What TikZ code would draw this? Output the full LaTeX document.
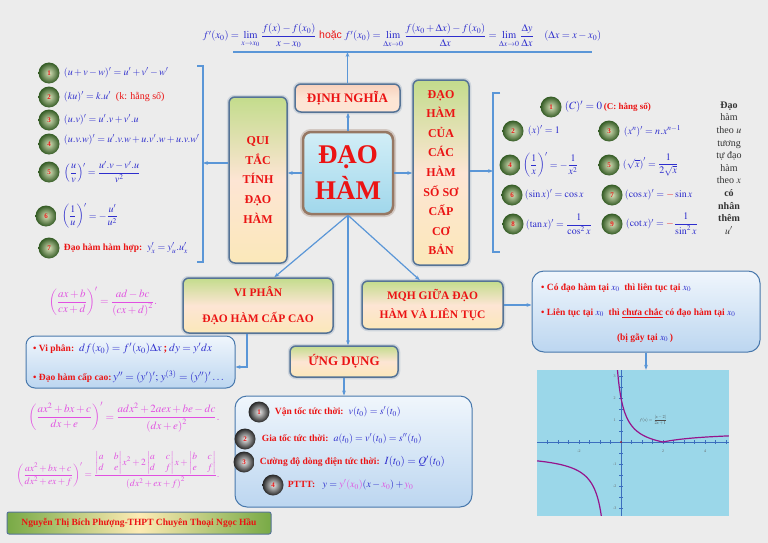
\documentclass[tikz,border=0pt]{standalone}
\usepackage{amsmath}
\usepackage{mathptmx}
\usepackage{fontspec}
\setmainfont{Liberation Serif}
\newfontfamily\sansf{Liberation Sans}
\usetikzlibrary{positioning,arrows.meta}

\definecolor{mblue}{RGB}{45,45,205}
\definecolor{hred}{RGB}{235,20,20}
\definecolor{mag}{RGB}{225,80,225}
\definecolor{bgc}{RGB}{236,236,236}
\definecolor{lnc}{RGB}{90,150,215}
\definecolor{bdc}{RGB}{85,115,150}
\definecolor{peach}{RGB}{253,229,212}
\definecolor{lgreen}{RGB}{195,220,140}
\definecolor{lyel}{RGB}{251,232,185}
\definecolor{skyb}{RGB}{155,215,233}
\definecolor{pblue1}{RGB}{240,246,252}
\definecolor{pblue2}{RGB}{188,214,240}
\definecolor{gin}{RGB}{215,225,185}
\definecolor{gout}{RGB}{50,90,35}
\definecolor{axc}{RGB}{60,110,190}
\definecolor{crv}{RGB}{150,20,140}

\tikzset{
  mainbox/.style={rectangle, rounded corners=6pt, draw=bdc, line width=1.5pt,
    preaction={draw=bdc!60, line width=4.5pt, opacity=0.35},
    top color=lgreen, bottom color=lyel, middle color=peach,
    text=hred, align=center, inner sep=0pt,
    font=\bfseries\fontsize{12}{19.6}\selectfont},
  corebox/.style={rectangle, rounded corners=8pt, draw={rgb,255:red,150;green,120;blue,100},
    line width=2.5pt, preaction={draw={rgb,255:red,150;green,120;blue,100}, line width=6pt, opacity=0.3},
    top color={rgb,255:red,210;green,238;blue,247}, bottom color={rgb,255:red,160;green,215;blue,235},
    text=hred, align=center, inner sep=0pt, font=\bfseries\fontsize{27}{36}\selectfont},
  infobox/.style={rectangle, rounded corners=12pt, draw=lnc!80!black, line width=1pt,
    top color=pblue1, bottom color=pblue2, inner sep=0pt},
  ball/.style={circle, minimum size=21pt, inner sep=0pt, inner color=gin, outer color=gout,
    text=hred, font=\bfseries\fontsize{7}{7}\selectfont},
  gball/.style={circle, minimum size=21pt, inner sep=0pt, inner color=black!8, outer color=black!85,
    text=hred, font=\bfseries\fontsize{7}{7}\selectfont},
  fml/.style={inner sep=0pt, text=mblue, font=\fontsize{10}{12}\selectfont},
  item/.style={inner sep=0pt, text=mblue, font=\fontsize{10}{12}\selectfont},
  mg/.style={inner sep=0pt, text=mag, font=\fontsize{11}{13}\selectfont},
  conn/.style={draw=lnc, line width=1.2pt, -{Stealth[length=5pt]}}
}

\begin{document}
\begin{tikzpicture}[x=1pt, y=-1pt]
\fill[bgc] (0,0) rectangle (768,543);
\useasboundingbox (0,0) rectangle (768,543);

% dinh nghia
\node[fml, font=\fontsize{10.5}{12}\selectfont] (def) at (402,36) {$f'(x_0)=\lim\limits_{x\to x_0}\dfrac{f(x)-f(x_0)}{x-x_0}$\ \textcolor{hred}{\sansf hoặc}\ $f'(x_0)=\lim\limits_{\Delta x\to 0}\dfrac{f(x_0+\Delta x)-f(x_0)}{\Delta x}=\lim\limits_{\Delta x\to 0}\dfrac{\Delta y}{\Delta x}\quad(\Delta x=x-x_0)$};
\coordinate (ul) at (233,52);
\coordinate (ur) at (592,52);
\draw[lnc, line width=2pt] (ul) -- (ur);

% main boxes
\node[mainbox, minimum width=105pt, minimum height=28pt, top color={rgb,255:red,247;green,208;blue,188},
  bottom color=peach, middle color=peach, font=\bfseries\fontsize{13}{15}\selectfont] (dn) at (347.5,98) {ĐỊNH NGHĨA};
\node[corebox, minimum width=90pt, minimum height=82pt] (dh) at (348,173) {ĐẠO\\HÀM};
\node[mainbox, minimum width=58pt, minimum height=166pt] (qt) at (258,180) {QUI\\TẮC\\TÍNH\\ĐẠO\\HÀM};
\node[mainbox, minimum width=56pt, minimum height=185pt] (sc) at (441,172.5) {ĐẠO\\HÀM\\CỦA\\CÁC\\HÀM\\SỐ SƠ\\CẤP\\CƠ\\BẢN};
\node[mainbox, minimum width=150pt, minimum height=55pt, font=\bfseries\fontsize{11.5}{26}\selectfont] (vp) at (258,305.5) {VI PHÂN\\ĐẠO HÀM CẤP CAO};
\node[mainbox, minimum width=141pt, minimum height=48pt, font=\bfseries\fontsize{11.5}{19}\selectfont] (mq) at (432.5,305) {MQH GIỮA ĐẠO\\HÀM VÀ LIÊN TỤC};
\node[mainbox, minimum width=108pt, minimum height=31pt, font=\bfseries\fontsize{13}{15}\selectfont] (ud) at (344,361.5) {ỨNG DỤNG};

% info boxes
\node[infobox, rounded corners=9pt, minimum width=209pt, minimum height=52pt] (vb) at (130.5,362) {};
\node[infobox, minimum width=237pt, minimum height=111pt] (ub) at (353.5,451.5) {};
\node[infobox, minimum width=228pt, minimum height=81pt] (mb) at (646,311.5) {};
\node[rectangle, fill=skyb, minimum width=192pt, minimum height=146pt, inner sep=0pt] (gr) at (633,443) {};

% connectors
\draw[conn] (dn.north) -- (dn.north |- ul);
\draw[conn] (dh.north) -- (dh.north |- dn.south);
\draw[conn] (dh.west) -- (dh.west -| qt.east);
\draw[conn] (dh.east) -- (dh.east -| sc.west);
\draw[conn] (dh.south) -- (vp.60);
\draw[conn] (dh.south) -- (mq.117);
\draw[conn] (dh.south) -- (dh.south |- ud.north);
\draw[conn] (ud.south) -- (ud.south |- ub.north);
\draw[conn] ([xshift=-11pt]vp.south) |- ([yshift=-5pt]vb.east);
\draw[conn] (mq.east) -- (mq.east -| mb.west);
\draw[conn] (mb.south) -- (mb.south |- gr.north);
\coordinate (lb) at (203,163);
\coordinate (rb) at (493,171);
\draw[conn] (qt.west |- lb) -- (lb);
\draw[conn] (sc.east |- rb) -- (rb);
\draw[lnc, line width=1.2pt] (197,66) -- (203,66) -- (203,262) -- (197,262);
\draw[lnc, line width=1.2pt] (500,93) -- (493,93) -- (493,252) -- (500,252);

% qui tac
\node[ball] (a1) at (49,73) {1};
\node[fml, right=4pt of a1] (t1) {$(u+v-w)'=u'+v'-w'$};
\node[ball] (a2) at (49,97) {2};
\node[fml, right=4pt of a2] (t2) {$(ku)'=k.u'$\ \ \textcolor{hred}{(k: hằng số)}};
\node[ball] (a3) at (49,120) {3};
\node[fml, right=4pt of a3] (t3) {$(u.v)'=u'.v+v'.u$};
\node[ball] (a4) at (49,144) {4};
\node[fml, right=4pt of a4, yshift=4pt] (t4) {$(u.v.w)'=u'.v.w+u.v'.w+u.v.w'$};
\node[ball] (a5) at (49,172) {5};
\node[fml, right=4pt of a5] (t5) {$\left(\dfrac{u}{v}\right)'=\dfrac{u'.v-v'.u}{v^2}$};
\node[ball] (a6) at (46,216) {6};
\node[fml, right=5pt of a6] (t6) {$\left(\dfrac{1}{u}\right)'=-\dfrac{u'}{u^2}$};
\node[ball] (a7) at (49,248) {7};
\node[fml, right=4pt of a7] (t7) {\textcolor{hred}{\bfseries\fontsize{9.5}{11}\selectfont Đạo hàm hàm hợp:}\ \ $y'_x=y'_u.u'_x$};

% ham so co ban
\node[ball] (c1) at (551,107) {1};
\node[fml, right=3pt of c1, font=\fontsize{11}{13}\selectfont] (s1) {$(C)'=0$\,\textcolor{hred}{\bfseries\fontsize{9}{10}\selectfont(C: hằng số)}};
\node[ball] (c2) at (513,131) {2};
\node[fml, right=4pt of c2] (s2) {$(x)'=1$};
\node[ball] (c3) at (609,131) {3};
\node[fml, right=4pt of c3] (s3) {$(x^n)'=n.x^{n-1}$};
\node[ball] (c4) at (510,165) {4};
\node[fml, right=2pt of c4] (s4) {$\left(\dfrac{1}{x}\right)'=-\dfrac{1}{x^2}$};
\node[ball] (c5) at (609,165) {5};
\node[fml, right=3pt of c5] (s5) {$\left(\sqrt{x}\right)'=\dfrac{1}{2\sqrt{x}}$};
\node[ball] (c6) at (512,195) {6};
\node[fml, right=2pt of c6] (s6) {$(\sin x)'=\cos x$};
\node[ball] (c7) at (612,195) {7};
\node[fml, right=2pt of c7] (s7) {$(\cos x)'=\textcolor{hred}{-}\sin x$};
\node[ball] (c8) at (513,224) {8};
\node[fml, right=2pt of c8] (s8) {$(\tan x)'=\dfrac{1}{\cos^2 x}$};
\node[ball] (c9) at (612,224) {9};
\node[fml, right=3pt of c9] (s9) {$(\cot x)'=\textcolor{hred}{-}\dfrac{1}{\sin^2 x}$};
\node[align=center, inner sep=0pt, text=black!80, font=\fontsize{10}{12.6}\selectfont] (nt) at (729,168)
  {\textbf{Đạo}\\hàm\\theo $u$\\tương\\tự đạo\\hàm\\theo $x$\\\textbf{có}\\\textbf{nhân}\\\textbf{thêm}\\$\boldsymbol{u'}$};

% vi phan
\node[mg] (f1) at (103,302) {$\left(\dfrac{ax+b}{cx+d}\right)'=\dfrac{ad-bc}{\left(cx+d\right)^2}.$};
\node[item, anchor=west] (v1) at (33,349) {\textcolor{hred}{\bfseries\fontsize{9.5}{11}\selectfont\textbullet\ Vi phân:}\ \ {\fontsize{11}{13}\selectfont$df(x_0)=f'(x_0)\Delta x$\,\textcolor{hred}{\bfseries;}\,$dy=y'dx$}};
\node[item, anchor=west] (v2) at (33,377) {\textcolor{hred}{\bfseries\fontsize{9.5}{11}\selectfont\textbullet\ Đạo hàm cấp cao:}\,{\fontsize{11}{13}\selectfont$y''=(y')';\,y^{(3)}=(y'')'\ldots$}};
\node[mg] (f2) at (124,417) {$\left(\dfrac{ax^2+bx+c}{dx+e}\right)'=\dfrac{adx^2+2aex+be-dc}{\left(dx+e\right)^2}.$};
\node[mg, font=\fontsize{9.5}{11}\selectfont] (f3) at (118,470) {$\left(\dfrac{ax^2+bx+c}{dx^2+ex+f}\right)'=\dfrac{\begin{vmatrix}a&b\\d&e\end{vmatrix}x^2+2\begin{vmatrix}a&c\\d&f\end{vmatrix}x+\begin{vmatrix}b&c\\e&f\end{vmatrix}}{\left(dx^2+ex+f\right)^2}.$};

% ung dung
\node[gball] (b1) at (259,412) {1};
\node[item, right=5pt of b1] (u1) {\textcolor{hred}{\bfseries\fontsize{9.5}{11}\selectfont Vận tốc tức thời:}\ \ $v(t_0)=s'(t_0)$};
\node[gball] (b2) at (245,439) {2};
\node[item, right=6pt of b2] (u2) {\textcolor{hred}{\bfseries\fontsize{9.5}{11}\selectfont Gia tốc tức thời:}\ \ $a(t_0)=v'(t_0)=s''(t_0)$};
\node[gball] (b3) at (244,462) {3};
\node[item, right=5pt of b3] (u3) {\textcolor{hred}{\bfseries\fontsize{9.5}{11}\selectfont Cường độ dòng điện tức thời:}\ \ {\fontsize{11}{13}\selectfont$I(t_0)=Q'(t_0)$}};
\node[gball] (b4) at (273,485) {4};
\node[item, right=4pt of b4] (u4) {\textcolor{hred}{\bfseries\fontsize{9.5}{11}\selectfont PTTT:}\ \ \ $y=\textcolor{mag}{y'(x_0)}(x-\textcolor{mag}{x_0})+\textcolor{mag}{y_0}$};

% mqh
\node[item, anchor=west, text=hred, font=\bfseries\fontsize{9.5}{11}\selectfont] (m1) at (541,288) {\textbullet\ Có đạo hàm tại \textcolor{mblue}{$x_0$}\ \ thì liên tục tại \textcolor{mblue}{$x_0$}};
\node[item, anchor=west, text=hred, font=\bfseries\fontsize{9.5}{11}\selectfont] (m2) at (541,313) {\textbullet\ Liên tục tại \textcolor{mblue}{$x_0$}\ \ thì \underline{chưa chắc} có đạo hàm tại \textcolor{mblue}{$x_0$}};
\node[item, text=hred, font=\bfseries\fontsize{9.5}{11}\selectfont] (m3) at (645,338) {(bị gãy tại \textcolor{mblue}{$x_0$}\,)};

% do thi
\begin{scope}[shift={(621,442)}, x=21pt, y=22pt]
  \clip (-4,-3.36) rectangle (5.14,3.27);
  \draw[axc, line width=0.9pt] (-4,0) -- (5.14,0);
  \draw[axc, line width=0.9pt] (0,-3.36) -- (0,3.27);
  \foreach \t in {-3.5,-3,...,5} \draw[axc, line width=0.6pt] (\t,-0.08) -- (\t,0.08);
  \foreach \t in {-3,-2.5,...,3} \draw[axc, line width=0.6pt] (-0.08,\t) -- (0.08,\t);
  \foreach \t in {-2,2,4} \node[font=\fontsize{4}{4}\selectfont, text=black!60] at (\t,-0.4) {\t};
  \foreach \t in {-3,-2,-1,1,2,3} \node[font=\fontsize{4}{4}\selectfont, text=black!60] at (-0.3,\t) {\t};
  \fill[red!70!black] (0,0) circle (0.8pt);
  \draw[crv, line width=1.2pt, domain=-0.17:5.2, samples=120] plot (\x,{abs(\x-2)/(2*\x+1)});
  \draw[crv, line width=1.2pt, domain=-4.1:-0.93, samples=80] plot (\x,{abs(\x-2)/(2*\x+1)});
  \node[font=\fontsize{4.5}{5}\selectfont, text=black!70] (fx) at (1.55,1) {$f(x)=\dfrac{|x-2|}{2x+1}$};
\end{scope}

% tac gia
\node[rectangle, rounded corners=2pt, draw=bdc, line width=1pt,
  left color={rgb,255:red,120;green,170;blue,70}, right color={rgb,255:red,120;green,170;blue,70},
  middle color={rgb,255:red,253;green,235;blue,180},
  minimum width=264pt, minimum height=22pt, inner sep=0pt,
  text=hred, font=\bfseries\fontsize{9.5}{11}\selectfont] (au) at (139,523) {Nguyễn Thị Bích Phượng-THPT Chuyên Thoại Ngọc Hầu};
\end{tikzpicture}
\end{document}
